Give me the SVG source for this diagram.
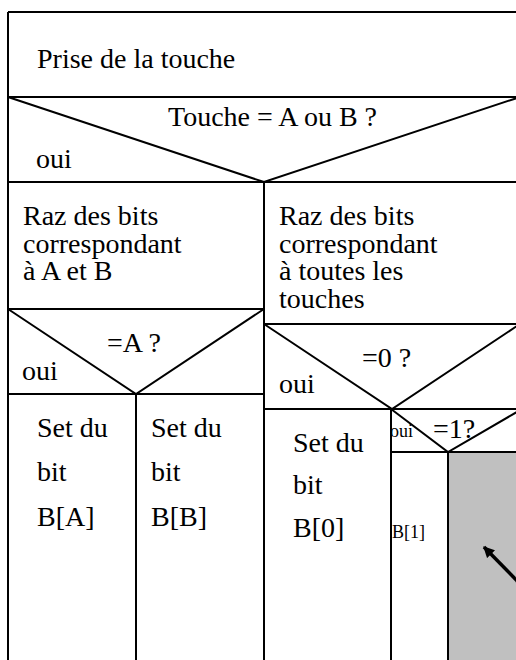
<svg xmlns="http://www.w3.org/2000/svg" width="516" height="660" viewBox="0 0 516 660">
<style>
.ln{stroke:#000;stroke-width:2;fill:none}
.t{font-family:'Liberation Serif','Times New Roman','DejaVu Serif',serif;font-size:28px;fill:#000}
.s{font-family:'Liberation Serif','Times New Roman','DejaVu Serif',serif;font-size:18px;fill:#000}
</style>
<defs>
<marker id="ah" viewBox="0 0 10 10" refX="9" refY="5" markerWidth="3.2" markerHeight="3.2" orient="auto-start-reverse" markerUnits="strokeWidth">
<path d="M0,0 L10,5 L0,10 Z" fill="#000"/>
</marker>
</defs>
<rect width="516" height="660" fill="#fff"/>
<g id="empty-branch">
<rect x="448" y="452" width="70" height="210" fill="#c0c0c0"/>
</g>
<g id="prise">
<path class="ln" d="M8,12 H520 M8,12 V660"/>
<text class="t" x="37" y="68" font-family="Liberation Serif, serif">Prise de la touche</text>
</g>
<g id="dec-touche">
<path class="ln" d="M8,97 H520 M8,97 L264,182 L520,97 M8,182 H520 M264,182 V660"/>
<text class="t" x="168" y="126">Touche = A ou B ?</text>
<text class="t" x="36" y="168">oui</text>
</g>
<g id="raz-ab">
<text class="t" x="23" y="225">Raz des bits</text>
<text class="t" x="23" y="253">correspondant</text>
<text class="t" x="23" y="280">à A et B</text>
</g>
<g id="dec-a">
<path class="ln" d="M8,309 H264 M8,309 L136,394 L264,309 M8,394 H264 M136,394 V660"/>
<text class="t" x="107" y="352">=A ?</text>
<text class="t" x="22" y="380">oui</text>
</g>
<g id="set-a">
<text class="t" x="37" y="437">Set du</text>
<text class="t" x="37" y="481">bit</text>
<text class="t" x="37" y="526">B[A]</text>
</g>
<g id="set-b">
<text class="t" x="151" y="437">Set du</text>
<text class="t" x="151" y="481">bit</text>
<text class="t" x="151" y="526">B[B]</text>
</g>
<g id="raz-all">
<text class="t" x="279" y="225">Raz des bits</text>
<text class="t" x="279" y="253">correspondant</text>
<text class="t" x="279" y="280">à toutes les</text>
<text class="t" x="279" y="308">touches</text>
</g>
<g id="dec-0">
<path class="ln" d="M264,324 H520 M264,324 L392,409 L520,324 M264,409 H520 M391,409 V660"/>
<text class="t" x="362" y="367">=0 ?</text>
<text class="t" x="279" y="393">oui</text>
</g>
<g id="set-0">
<text class="t" x="293" y="452">Set du</text>
<text class="t" x="293" y="494">bit</text>
<text class="t" x="293" y="537">B[0]</text>
</g>
<g id="dec-1">
<text class="s" x="390" y="437">oui</text>
<text class="t" x="433" y="438">=1?</text>
<path class="ln" d="M391,409 L448,452 L522,409 M391,452 H520 M448,452 V660"/>
</g>
<g id="set-1">
<text class="s" x="392" y="538">B[1]</text>
</g>
<g id="connectors">
<line x1="530" y1="594" x2="484" y2="547" stroke="#000" stroke-width="3.5" marker-end="url(#ah)"/>
</g>
</svg>
